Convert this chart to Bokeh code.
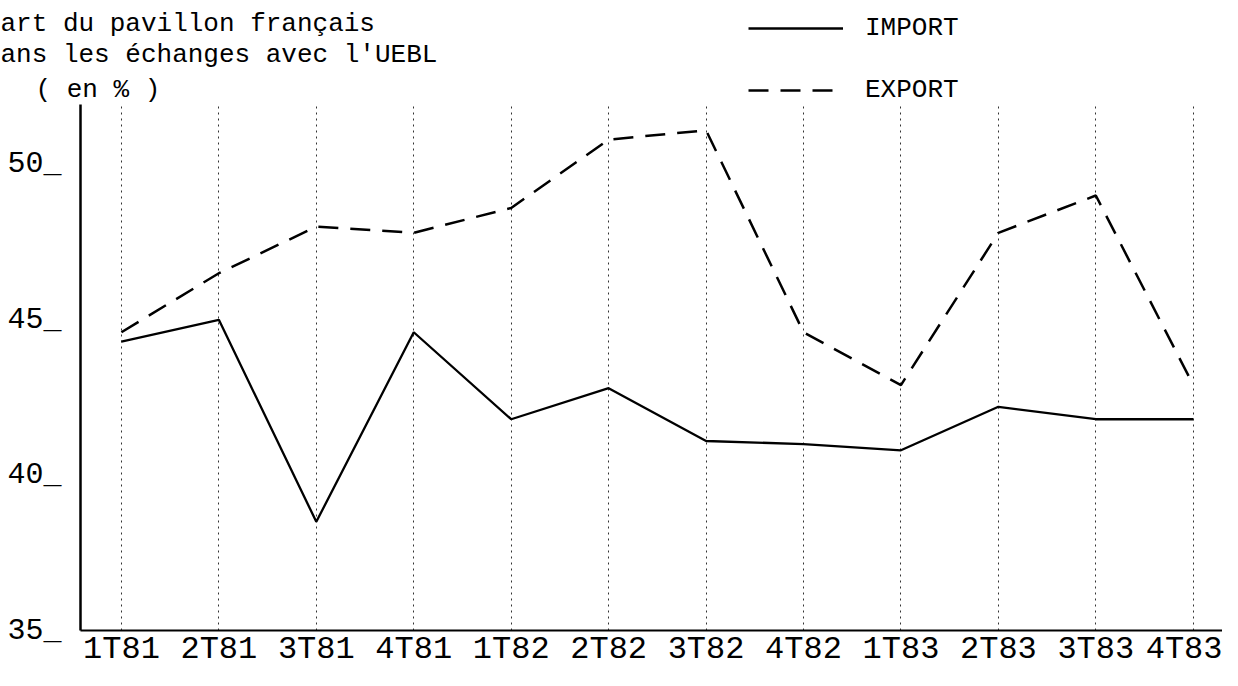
from bokeh.plotting import figure
from bokeh.layouts import column
from bokeh.models import Range1d, FixedTicker, Label, Legend, LegendItem
from bokeh.embed import file_html
from bokeh.resources import INLINE

# ---- data ----
quarters = ["1T81", "2T81", "3T81", "4T81", "1T82", "2T82",
            "3T82", "4T82", "1T83", "2T83", "3T83", "4T83"]
import_vals = [44.3, 45.0, 38.5, 44.6, 41.8, 42.8, 41.1, 41.0, 40.8, 42.2, 41.8, 41.8]
export_vals = [44.6, 46.5, 48.0, 47.8, 48.6, 50.8, 51.1, 44.6, 42.9, 47.8, 49.0, 42.9]
y_ticks = [35, 40, 45, 50]
y_tick_labels = ["35_", "40_", "45_", "50_"]
title_lines = ["art du pavillon français", "ans les échanges avec l'UEBL", "( en % )"]
series_names = ["IMPORT", "EXPORT"]

FONT = "Liberation Mono"
W = 1222
x = list(range(len(quarters)))

IMP_STYLE = dict(line_color="black", line_width=2.3)
EXP_STYLE = dict(line_color="black", line_width=2.5, line_dash="20 12")

# ---- header (title + legend) ----
head = figure(width=W, height=104, output_backend="svg", toolbar_location=None,
              x_axis_location=None, y_axis_location=None,
              x_range=Range1d(0, 1), y_range=Range1d(0, 1),
              min_border=0, min_border_left=0, min_border_right=0,
              min_border_top=0, min_border_bottom=0)
head.frame_align = False
head.outline_line_color = None
head.grid.visible = False
head.background_fill_color = "white"
head.border_fill_color = "white"

title_pos = [(0, 81), (0, 50), (35, 15)]
for txt, (tx, ty) in zip(title_lines, title_pos):
    head.add_layout(Label(x=tx, y=ty, x_units="screen", y_units="screen", text=txt,
                          text_font=FONT, text_font_size="26px", text_color="black",
                          text_baseline="alphabetic"))

# legend samples: same series, lying outside the header's visible range
h_imp = head.line(x, import_vals, **IMP_STYLE)
h_exp = head.line(x, export_vals, **EXP_STYLE)
legend = Legend(items=[LegendItem(label=series_names[0], renderers=[h_imp]),
                       LegendItem(label=series_names[1], renderers=[h_exp])],
                location=(748, -1), glyph_width=95, glyph_height=24,
                label_standoff=22, spacing=32, padding=0, margin=0,
                border_line_color=None, background_fill_alpha=0,
                label_text_font=FONT, label_text_font_size="26px",
                label_text_color="black")
head.add_layout(legend)

# ---- main chart ----
p = figure(width=W, height=566, output_backend="svg", toolbar_location=None,
           x_range=Range1d(-0.42, 11.30), y_range=Range1d(35, 51.93),
           min_border_left=80, min_border_right=0, min_border_top=0,
           min_border_bottom=0)
p.frame_align = False
p.outline_line_color = None
p.background_fill_color = "white"
p.border_fill_color = "white"

p.line(x, import_vals, **IMP_STYLE)
p.line(x, export_vals, **EXP_STYLE)

# x axis
p.xaxis.ticker = FixedTicker(ticks=x)
p.xaxis.major_label_overrides = {i: q for i, q in enumerate(quarters)}
p.xaxis.major_tick_line_color = None
p.xaxis.major_tick_out = 0
p.xaxis.major_tick_in = 0
p.xaxis.minor_tick_line_color = None
p.xaxis.minor_tick_out = 0
p.xaxis.minor_tick_in = 0
p.xaxis.axis_label_standoff = 0
p.xaxis.axis_line_width = 2
p.xaxis.axis_line_color = "black"
p.xaxis.major_label_standoff = 0
p.xaxis.major_label_text_font = FONT
p.xaxis.major_label_text_font_size = "32px"
p.xaxis.major_label_text_color = "black"

# y axis
p.yaxis.ticker = FixedTicker(ticks=y_ticks)
p.yaxis.major_label_overrides = dict(zip(y_ticks, y_tick_labels))
p.yaxis.major_tick_line_color = None
p.yaxis.major_tick_out = 0
p.yaxis.major_tick_in = 0
p.yaxis.minor_tick_line_color = None
p.yaxis.minor_tick_out = 0
p.yaxis.minor_tick_in = 0
p.yaxis.axis_line_width = 2.5
p.yaxis.axis_line_color = "black"
p.yaxis.major_label_standoff = 19
p.yaxis.major_label_text_font = FONT
p.yaxis.major_label_text_font_size = "30px"
p.yaxis.major_label_text_color = "black"
p.yaxis.major_label_text_baseline = "alphabetic"

# grids
p.ygrid.grid_line_color = None
p.xgrid.ticker = FixedTicker(ticks=x)
p.xgrid.grid_line_color = "black"
p.xgrid.grid_line_alpha = 0.8
p.xgrid.grid_line_width = 1
p.xgrid.grid_line_dash = "2 4"

layout = column(head, p, spacing=0)
open("out.html", "w").write(file_html(layout, INLINE))
